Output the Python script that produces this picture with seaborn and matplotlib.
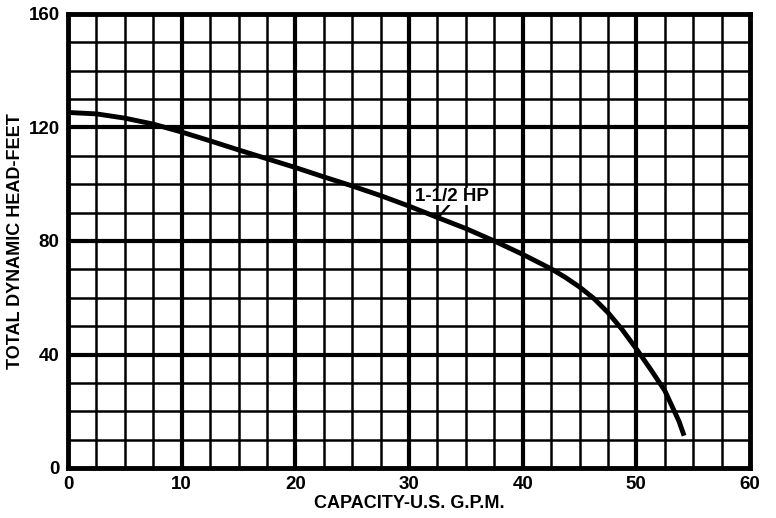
import numpy as np
import pandas as pd
import matplotlib
matplotlib.use("Agg")
import matplotlib.pyplot as plt
import seaborn as sns

# === Data ===
capacity_gpm = [0, 2.5, 5, 7.5, 10, 12.5, 15, 17.5, 20, 22.5, 25, 27.5, 30, 32.5, 35,
                37.5, 40, 42.5, 43.75, 45, 46.25, 47.5, 48.75, 50, 51.25, 52.5, 53.75, 54.2]
head_feet = [125.3, 124.8, 123.3, 121.2, 118.4, 115.3, 112.1, 109, 105.9, 102.6, 99.4, 96, 92.3,
             88.3, 84.4, 80, 75.3, 70.2, 67.2, 63.8, 59.8, 54.8, 48.8, 42, 34.8, 27.3, 16.5, 11.4]
x_ticks = [0, 10, 20, 30, 40, 50, 60]
y_ticks = [0, 40, 80, 120, 160]
curve_label = "1-1/2 HP"

df = pd.DataFrame({"gpm": capacity_gpm, "head": head_feet})

sns.set_style("white")
plt.rcParams["font.family"] = ["Liberation Sans", "DejaVu Sans"]
plt.rcParams["font.weight"] = "bold"
plt.rcParams["text.color"] = "black"
plt.rcParams["axes.labelcolor"] = "black"
plt.rcParams["xtick.color"] = "black"
plt.rcParams["ytick.color"] = "black"

fig = plt.figure(figsize=(7.76, 5.18), dpi=100)
ax = fig.add_axes([68 / 776, 1 - 468 / 518, (750 - 68) / 776, (468 - 14) / 518])

# === Grid ===
for xv in np.arange(2.5, 60, 2.5):
    ax.axvline(xv, color="black", lw=3.0 if xv % 10 == 0 else 1.8, zorder=1)
for yv in np.arange(10, 160, 10):
    ax.axhline(yv, color="black", lw=3.0 if yv % 40 == 0 else 1.8, zorder=1)

# === Curve ===
sns.lineplot(data=df, x="gpm", y="head", color="black", lw=3.5, ax=ax, zorder=3,
             solid_joinstyle="round", solid_capstyle="butt")

ax.annotate(curve_label, xy=(32.6, 88.4), xytext=(30.5, 95.8),
            fontsize=13.5, fontweight="bold", ha="left", va="center",
            arrowprops=dict(arrowstyle="-", color="black", lw=1.6,
                            shrinkA=0, shrinkB=0,
                            relpos=(0.47, 0.0)),
            bbox=dict(boxstyle="square,pad=0.0", fc="white", ec="none"),
            zorder=4)

ax.set_xlim(0, 60)
ax.set_ylim(0, 160)
ax.set_xticks(x_ticks)
ax.set_yticks(y_ticks)
ax.tick_params(length=0, labelsize=13.5, pad=6, colors="black")
for lab in ax.get_xticklabels() + ax.get_yticklabels():
    lab.set_fontweight("bold")
for sp in ax.spines.values():
    sp.set_linewidth(3.5)
    sp.set_color("black")
    sp.set_zorder(5)

ax.set_xlabel("CAPACITY-U.S. G.P.M.", fontsize=13, fontweight="bold", labelpad=1)
ax.set_ylabel("TOTAL DYNAMIC HEAD-FEET", fontsize=13, fontweight="bold", labelpad=3)

plt.savefig("out.png", dpi=100)
